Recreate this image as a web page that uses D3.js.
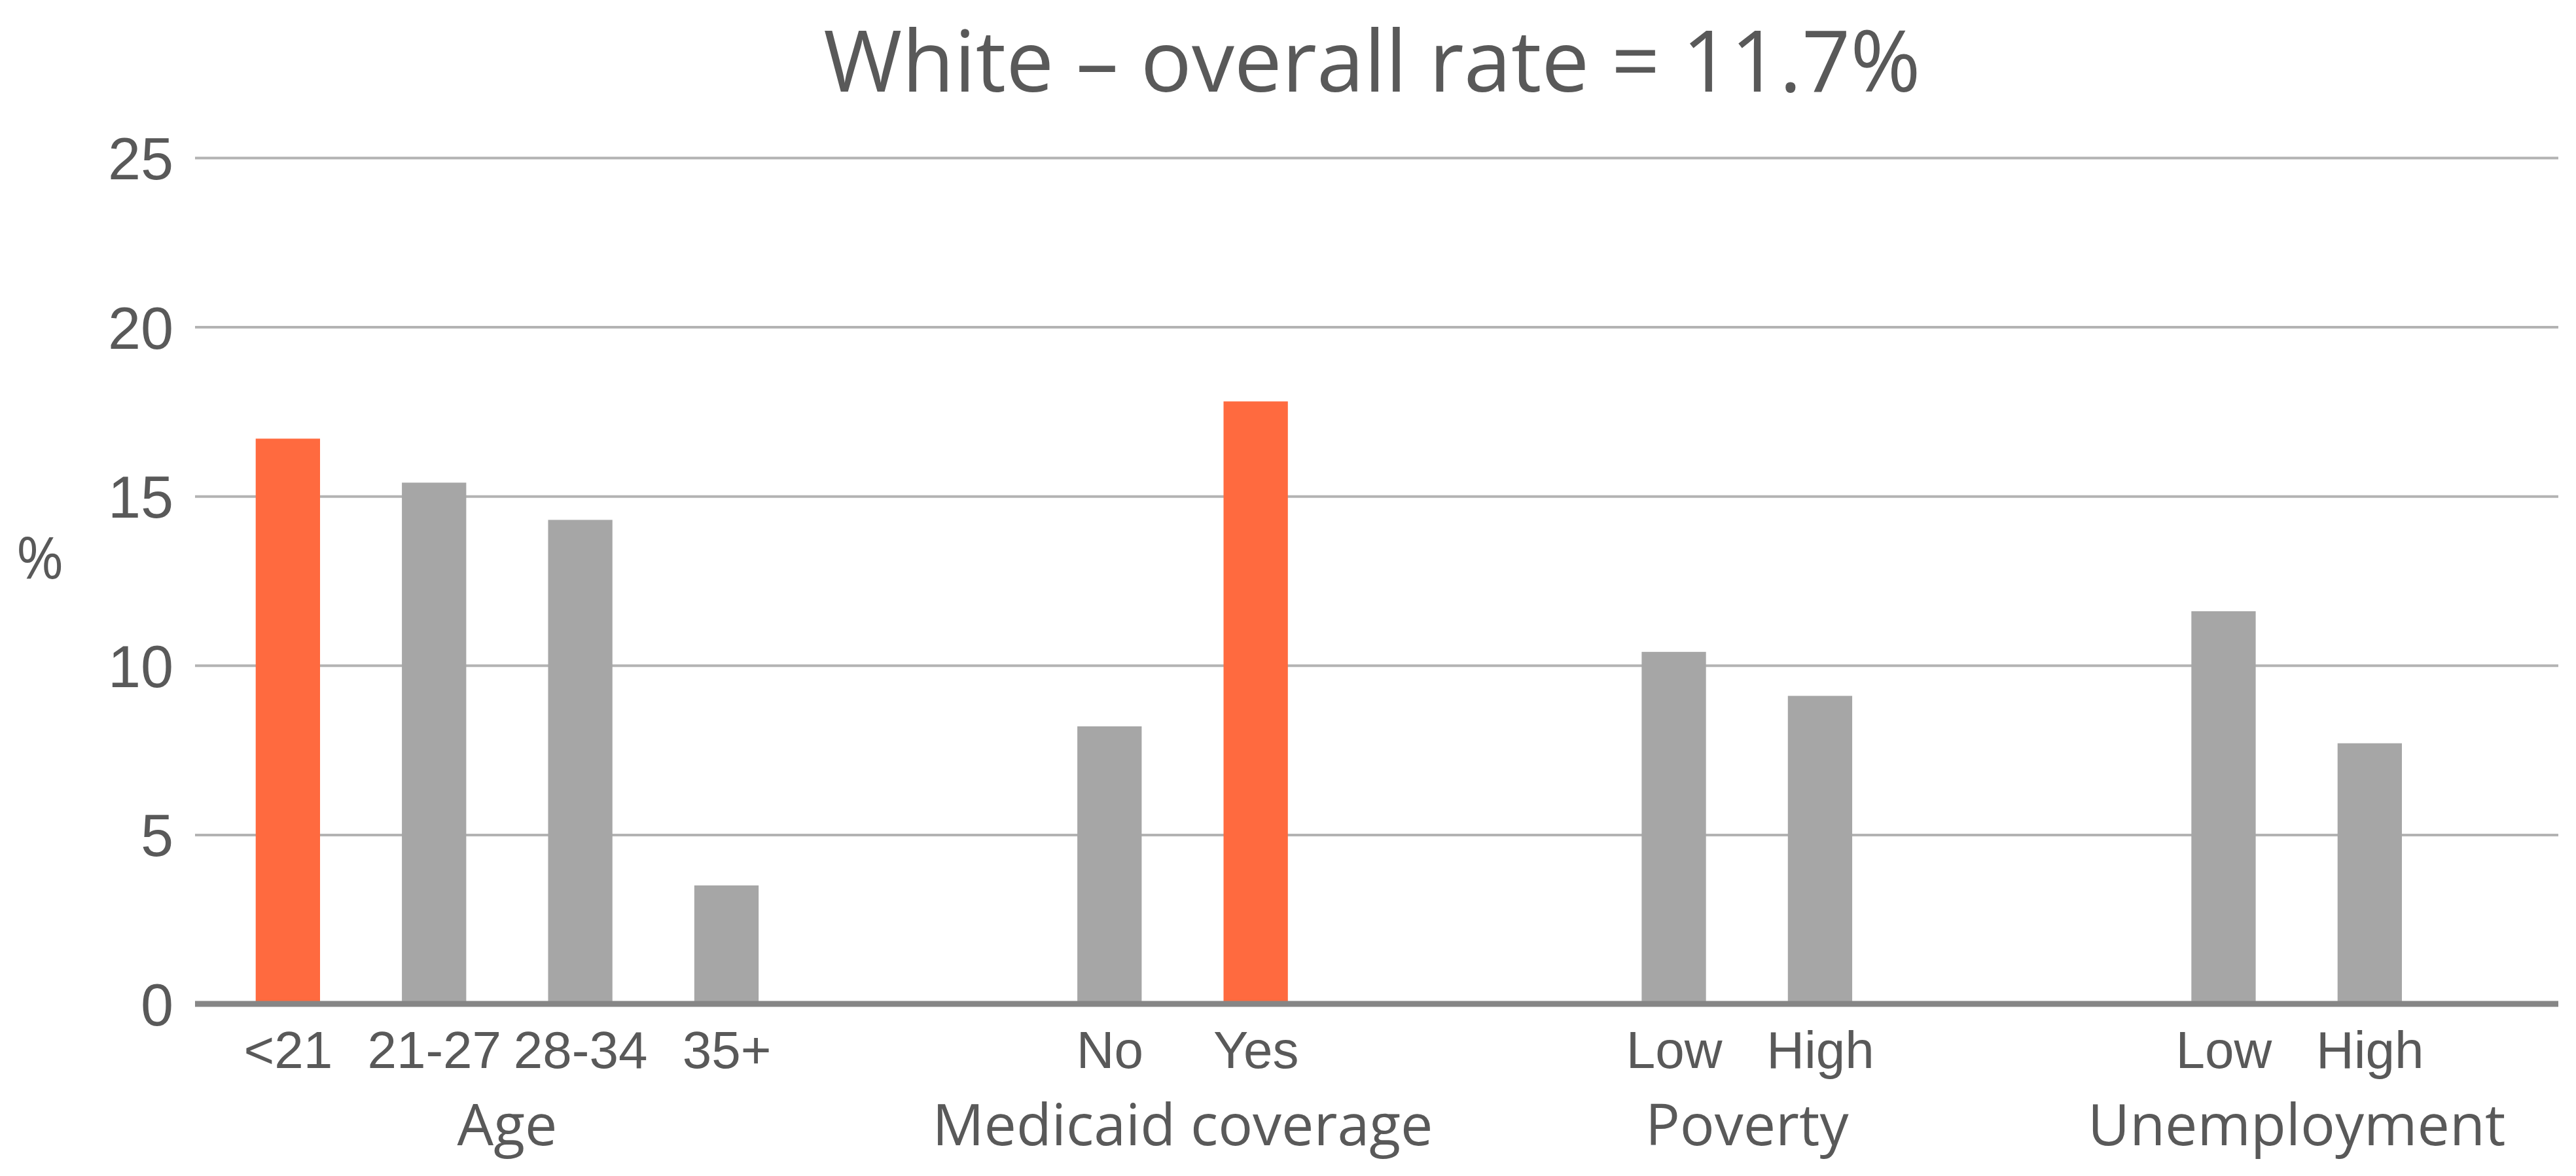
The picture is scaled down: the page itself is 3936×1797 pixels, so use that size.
<!DOCTYPE html>
<html>
<head>
<meta charset="utf-8">
<script src="https://cdn.jsdelivr.net/npm/d3@7"></script>
<style>
  body { margin: 0; background: #fff; }
  svg { display: block; font-family: "Open Sans", "Noto Sans", sans-serif; }
</style>
</head>
<body>
<div id="chart"></div>
<script>
const title = "White \u2013 overall rate = 11.7%";
const groups = ["Age", "Medicaid coverage", "Poverty", "Unemployment"];
const categories = [
  ["<21", "21-27", "28-34", "35+"],
  ["No", "Yes"],
  ["Low", "High"],
  ["Low", "High"],
];
const values = [
  [16.7, 15.4, 14.3, 3.5],
  [8.2, 17.8],
  [10.4, 9.1],
  [11.6, 7.7],
];
const highlight = ["Age|<21", "Medicaid coverage|Yes"];
const yTicks = [0, 5, 10, 15, 20, 25];
const yLabel = "%";

const colorBar = "#a6a6a6";
const colorHi = "#ff6a3f";
const colorText = "#595959";

chart = (() => {
  const width = 3936;
  const height = 1797;
  const left = 298, right = 3909, top = 241, bottom = 1534;

  // bars sit on unit slots; space before each group (in slot units)
  const lead = 0.635, gaps = [2.62, 2.86, 2.76], tail = 1.29, barW = 0.44;
  const bars = [];
  let u = lead;
  groups.forEach((g, gi) => {
    if (gi > 0) u += gaps[gi - 1];
    categories[gi].forEach((c, ci) => {
      if (ci > 0) u += 1;
      bars.push({ group: g, cat: c, key: g + "|" + c, value: values[gi][ci], u });
    });
  });
  const total = u + tail;

  const x = d3.scaleLinear().domain([0, total]).range([left, right]);
  const y = d3.scaleLinear().domain([0, 25]).range([bottom, top]);
  const xKey = d3.scaleOrdinal()
    .domain(bars.map((d) => d.key))
    .range(bars.map((d) => x(d.u)));

  const svg = d3
    .select("#chart")
    .append("svg")
    .attr("width", width)
    .attr("height", height)
    .attr("viewBox", [0, 0, width, height]);

  svg.append("rect").attr("width", width).attr("height", height).attr("fill", "#fff");

  // gridlines + y tick labels
  svg.append("g")
    .attr("transform", `translate(${left},0)`)
    .call(d3.axisLeft(y).tickValues(yTicks).tickSize(-(right - left)).tickPadding(33))
    .call((g) => g.select(".domain").remove())
    .call((g) => g.selectAll(".tick line")
      .attr("stroke", "#b3b3b3")
      .attr("stroke-width", 4)
      .attr("display", (d) => (d === 0 ? "none" : null)))
    .call((g) => g.selectAll(".tick text")
      .attr("fill", colorText)
      .attr("font-size", 90)
      .attr("dy", "0.36em"));

  svg.append("g")
    .selectAll("rect")
    .data(bars)
    .join("rect")
    .attr("x", (d) => x(d.u - barW / 2))
    .attr("width", (d) => x(barW) - x(0))
    .attr("y", (d) => y(d.value))
    .attr("height", (d) => y(0) - y(d.value))
    .attr("fill", (d) => (highlight.includes(d.key) ? colorHi : colorBar));

  // baseline
  svg.append("line")
    .attr("x1", x(0))
    .attr("x2", x(total))
    .attr("y1", y(0))
    .attr("y2", y(0))
    .attr("stroke", "#868686")
    .attr("stroke-width", 9);

  // category labels
  svg.append("g")
    .attr("transform", `translate(0,${y(0)})`)
    .call(d3.axisBottom(xKey).tickSize(0).tickPadding(0).tickFormat((k) => k.split("|")[1]))
    .call((g) => g.select(".domain").remove())
    .call((g) => g.selectAll(".tick text")
      .attr("fill", colorText)
      .attr("font-size", 80)
      .attr("dy", null)
      .attr("y", 98));

  // group labels
  svg.append("g")
    .selectAll("text")
    .data(groups)
    .join("text")
    .attr("x", (g) => d3.mean(bars.filter((d) => d.group === g), (d) => x(d.u)))
    .attr("y", 1750)
    .attr("text-anchor", "middle")
    .attr("fill", colorText)
    .attr("font-size", 88)
    .text((g) => g);

  svg.append("text")
    .attr("x", 61)
    .attr("y", 853)
    .attr("dy", "0.35em")
    .attr("text-anchor", "middle")
    .attr("fill", colorText)
    .attr("font-size", 88)
    .text(yLabel);

  svg.append("text")
    .attr("x", (left + right) / 2 - 7)
    .attr("y", 140)
    .attr("text-anchor", "middle")
    .attr("fill", colorText)
    .attr("font-size", 130)
    .text(title);

  return svg.node();
})();
</script>
</body>
</html>
